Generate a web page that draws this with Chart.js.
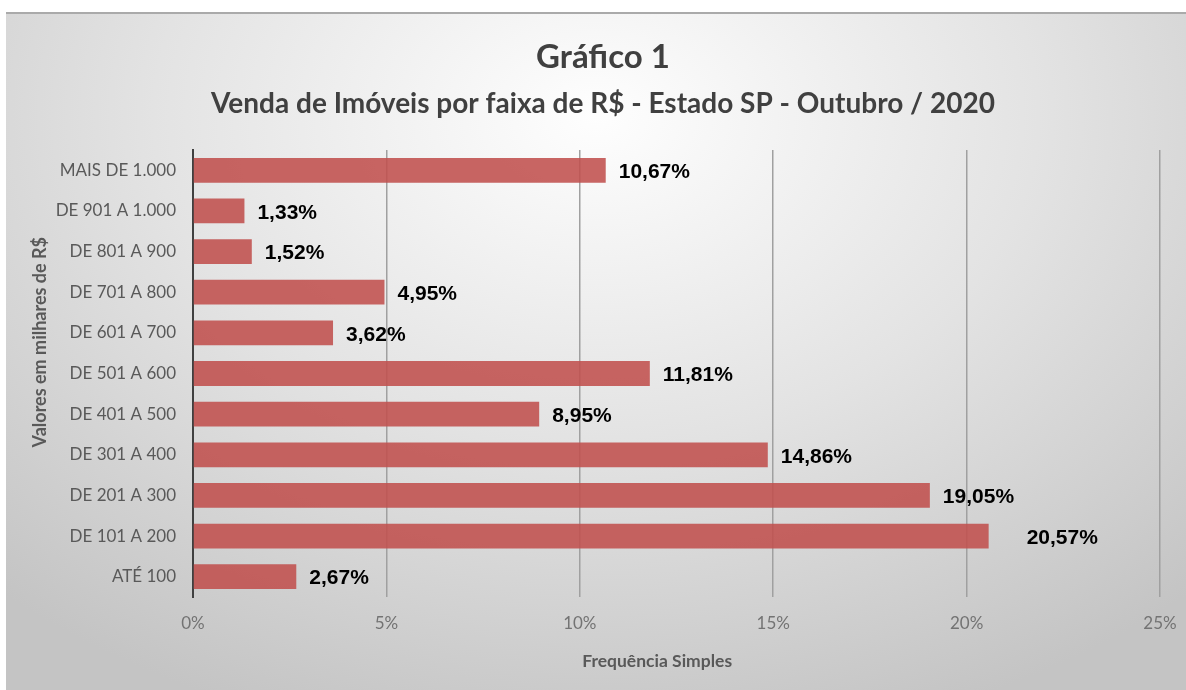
<!DOCTYPE html>
<html lang="pt-BR">
<head>
<meta charset="utf-8">
<title>Gráfico 1</title>
<script src="https://cdn.jsdelivr.net/npm/chart.js@4.4.1/dist/chart.umd.min.js"></script>
<style>
    html, body { margin: 0; padding: 0; background: #fff; }
    #wrap { position: relative; width: 1186px; height: 690px; overflow: hidden; }
    #fundo {
        position: absolute; left: 6px; top: 12px; width: 1180px; height: 678px;
        border-top: 2px solid #aaaaaa;
        background: radial-gradient(ellipse 75% 95% at 50% 15%, #fefefe 0%, #e3e3e3 50%, #c4c4c4 100%);
    }
    #grafico { position: absolute; left: 0; top: 0; }
</style>
</head>
<body>
<div id="wrap">
    <div id="fundo"></div>
    <canvas id="grafico" width="1186" height="690"></canvas>
</div>
<script>
/* ===== DADOS ===== */
const faixas = [
    'MAIS DE 1.000',
    'DE 901 A 1.000',
    'DE 801 A 900',
    'DE 701 A 800',
    'DE 601 A 700',
    'DE 501 A 600',
    'DE 401 A 500',
    'DE 301 A 400',
    'DE 201 A 300',
    'DE 101 A 200',
    'ATÉ 100',
];
const frequencia = [10.67, 1.33, 1.52, 4.95, 3.62, 11.81, 8.95, 14.86, 19.05, 20.57, 2.67];
const ticksX = [0, 5, 10, 15, 20, 25];

const titulo = 'Gráfico 1';
const subtitulo = 'Venda de Imóveis por faixa de R$ - Estado SP - Outubro / 2020';
const tituloY = 'Valores em milhares de R$';
const tituloX = 'Frequência Simples';

const fmt = v => v.toFixed(2).replace('.', ',') + '%';

/* ===== Títulos, rótulos de dados e títulos dos eixos ===== */
const rotulos = {
    id: 'rotulos',
    afterDatasetsDraw(chart) {
        const ctx = chart.ctx;
        const meta = chart.getDatasetMeta(0);
        ctx.save();
        ctx.font = 'bold 21px "Liberation Sans", Arial, sans-serif';
        ctx.fillStyle = '#000';
        ctx.textAlign = 'left';
        ctx.textBaseline = 'middle';
        meta.data.forEach((bar, i) => {
            // o rótulo do maior valor fica mais afastado no original
            const extra = i === 9 ? 25 : 0;
            ctx.fillText(fmt(frequencia[i]), bar.x + 13 + extra, bar.y + 2);
        });
        ctx.restore();
    },
    afterDraw(chart) {
        const ctx = chart.ctx;
        const area = chart.chartArea;
        ctx.save();
        ctx.fillStyle = '#404040';
        ctx.textAlign = 'center';
        ctx.textBaseline = 'middle';
        ctx.font = 'bold 33px Lato, sans-serif';
        ctx.fillText(titulo, 603, 57);
        ctx.font = 'bold 28px Lato, sans-serif';
        ctx.fillText(subtitulo, 603, 104);

        ctx.fillStyle = '#595959';
        ctx.font = 'bold 17.5px Lato, sans-serif';
        ctx.fillText(tituloX, area.left + (area.right - area.left) * 0.48, 661);
        ctx.font = 'bold 18px Lato, sans-serif';
        ctx.translate(40, area.top + (area.bottom - area.top) * 0.43);
        ctx.rotate(-Math.PI / 2);
        ctx.fillText(tituloY, 0, 0);
        ctx.restore();
    }
};

/* ===== Chart JS ===== */
const grafico = document.getElementById('grafico').getContext('2d');

new Chart(grafico, {
    type: 'bar',
    data: {
        labels: faixas,
        datasets: [{
            label: 'Frequência',
            data: frequencia,
            backgroundColor: 'rgba(192, 80, 77, 0.88)',
            borderWidth: 0,
            barPercentage: 0.61,
            categoryPercentage: 1,
        }],
    },
    options: {
        indexAxis: 'y',
        responsive: false,
        animation: false,
        layout: {
            padding: { left: 0, right: 0, top: 150, bottom: 0 }
        },
        plugins: {
            legend: { display: false },
            tooltip: { enabled: false },
        },
        scales: {
            x: {
                min: 0,
                max: 25,
                afterBuildTicks: s => { s.ticks = ticksX.map(v => ({ value: v })); },
                afterFit: s => {
                    s.height = 93;
                    s.paddingLeft = 0;
                    s.paddingRight = 26;
                },
                ticks: {
                    callback: v => v + '%',
                    color: '#737373',
                    font: { family: 'Lato', size: 17 },
                    padding: 16,
                    maxRotation: 0,
                },
                grid: {
                    color: '#a0a0a0',
                    lineWidth: 1.5,
                    drawTicks: false,
                },
                border: { display: false },
            },
            y: {
                afterFit: s => { s.width = 193; },
                ticks: {
                    color: '#595959',
                    font: { family: 'Lato', size: 17 },
                    padding: 17,
                },
                grid: { display: false, drawTicks: false },
                border: { display: true, color: '#404040', width: 2 },
            },
        },
    },
    plugins: [rotulos],
});
</script>
</body>
</html>
